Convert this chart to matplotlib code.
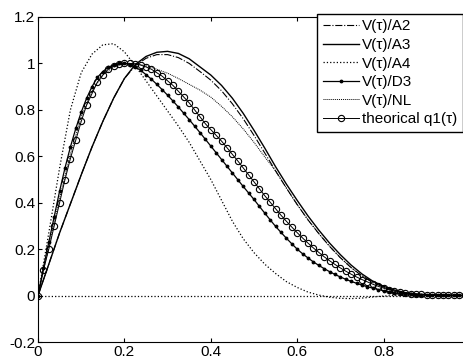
import numpy as np
import matplotlib
matplotlib.use("Agg")
import matplotlib.pyplot as plt
from matplotlib.ticker import FormatStrFormatter

# fine grid (marker series) and coarse grid (plain lines)
tau = np.linspace(0, 1, 81)
tau_c = np.linspace(0, 1, 41)

theo_q1 = [0, 0.11, 0.2, 0.3, 0.4, 0.5, 0.59, 0.67, 0.75, 0.82,
           0.87, 0.92, 0.95, 0.975, 0.99, 0.997, 1.0, 1.0, 0.998, 0.993,
           0.985, 0.975, 0.96, 0.945, 0.925, 0.905, 0.88, 0.855, 0.83, 0.8,
           0.77, 0.74, 0.715, 0.69, 0.665, 0.637, 0.608, 0.58, 0.55, 0.52,
           0.49, 0.46, 0.43, 0.402, 0.374, 0.346, 0.32, 0.295, 0.271, 0.248,
           0.226, 0.205, 0.186, 0.167, 0.15, 0.134, 0.119, 0.105, 0.092, 0.08,
           0.069, 0.059, 0.049, 0.04, 0.032, 0.025, 0.019, 0.014, 0.011, 0.008,
           0.006, 0.005, 0.004, 0.003, 0.003, 0.002, 0.002, 0.002, 0.001, 0.001,
           0.001]

v_d3 = [0, 0.12, 0.23, 0.34, 0.45, 0.55, 0.64, 0.72, 0.79, 0.85,
        0.9, 0.94, 0.965, 0.983, 0.994, 1.0, 1.0, 0.995, 0.985, 0.97,
        0.952, 0.932, 0.91, 0.887, 0.863, 0.838, 0.812, 0.785, 0.758, 0.73,
        0.702, 0.673, 0.644, 0.615, 0.586, 0.557, 0.528, 0.499, 0.47, 0.442,
        0.414, 0.384, 0.355, 0.326, 0.298, 0.272, 0.247, 0.223, 0.2, 0.18,
        0.162, 0.145, 0.13, 0.116, 0.103, 0.091, 0.08, 0.07, 0.061, 0.053,
        0.045, 0.038, 0.032, 0.026, 0.021, 0.016, 0.012, 0.009, 0.007, 0.005,
        0.004, 0.003, 0.003, 0.002, 0.002, 0.002, 0.001, 0.001, 0.001, 0.001,
        0.0]

v_a3 = [0, 0.135, 0.27, 0.395, 0.52, 0.64, 0.75, 0.85, 0.935, 0.995,
        1.03, 1.048, 1.052, 1.043, 1.02, 0.985, 0.95, 0.905, 0.85, 0.785,
        0.712, 0.635, 0.555, 0.48, 0.41, 0.343, 0.282, 0.226, 0.176, 0.131,
        0.093, 0.062, 0.04, 0.024, 0.013, 0.007, 0.004, 0.002, 0.001, 0.0,
        0.0]

v_a2 = [0, 0.135, 0.27, 0.395, 0.52, 0.64, 0.75, 0.85, 0.935, 0.99,
        1.022, 1.038, 1.038, 1.025, 1.0, 0.965, 0.928, 0.882, 0.826, 0.762,
        0.69, 0.614, 0.537, 0.463, 0.392, 0.326, 0.267, 0.212, 0.163, 0.12,
        0.085, 0.057, 0.036, 0.02, 0.011, 0.006, 0.003, 0.002, 0.001, 0.0,
        0.0]

v_a4 = [0, 0.27, 0.55, 0.8, 0.96, 1.04, 1.08, 1.085, 1.05, 0.99,
        0.925, 0.86, 0.795, 0.73, 0.66, 0.58, 0.5, 0.41, 0.32, 0.245,
        0.185, 0.135, 0.095, 0.06, 0.035, 0.015, 0.002, -0.007, -0.012, -0.013,
        -0.011, -0.006, -0.002, 0.0, 0.0, 0.0, 0.0, 0.0, 0.0, 0.0,
        0.0]

v_nl = [0, 0.21, 0.42, 0.61, 0.77, 0.88, 0.95, 0.985, 1.0, 1.0,
        0.99, 0.975, 0.958, 0.935, 0.91, 0.885, 0.855, 0.815, 0.77, 0.718,
        0.66, 0.597, 0.537, 0.463, 0.392, 0.326, 0.267, 0.212, 0.163, 0.12,
        0.085, 0.057, 0.036, 0.02, 0.011, 0.006, 0.003, 0.002, 0.001, 0.0,
        0.0]

xticks = [0, 0.2, 0.4, 0.6, 0.8]
yticks = [-0.2, 0, 0.2, 0.4, 0.6, 0.8, 1.0, 1.2]

plt.rcParams['font.family'] = ['Liberation Sans', 'DejaVu Sans']
plt.rcParams['font.size'] = 11

fig = plt.figure(figsize=(4.64, 3.61), dpi=100)
ax = fig.add_axes([38 / 464, 19 / 361, 432 / 464, 325 / 361])

ax.axhline(0, color='k', ls=':', lw=0.9)
ax.plot(tau_c, v_a2, color='k', ls='-.', lw=0.8, label='V(τ)/A2')
ax.plot(tau_c, v_a3, color='k', ls='-', lw=1.0, label='V(τ)/A3')
ax.plot(tau_c, v_a4, color='k', ls=':', lw=0.9, label='V(τ)/A4')
ax.plot(tau, v_d3, color='k', ls='-', lw=0.9, marker='.', ms=3.5, label='V(τ)/D3')
ax.plot(tau_c, v_nl, color='k', ls=(0, (1, 1)), lw=0.7, label='V(τ)/NL')
ax.plot(tau, theo_q1, color='k', ls='-', lw=0.7, marker='o', ms=4.5,
        mfc='none', mew=0.8, label='theorical q1(τ)')

ax.set_xlim(0, 1)
ax.set_ylim(-0.2, 1.2)
ax.set_xticks(xticks)
ax.set_yticks(yticks)
ax.xaxis.set_major_formatter(FormatStrFormatter('%g'))
ax.yaxis.set_major_formatter(FormatStrFormatter('%g'))
ax.tick_params(direction='in', top=True, right=True, length=3, pad=2, labelsize=11)

ax.legend(loc='upper right', bbox_to_anchor=(463 / 464, 1 - 14 / 361),
          bbox_transform=fig.transFigure, frameon=True, fancybox=False,
          edgecolor='k', framealpha=1, handlelength=2.4, handletextpad=0.2,
          borderpad=0.35, labelspacing=0.3, borderaxespad=0)

fig.savefig('out.png', dpi=100)
